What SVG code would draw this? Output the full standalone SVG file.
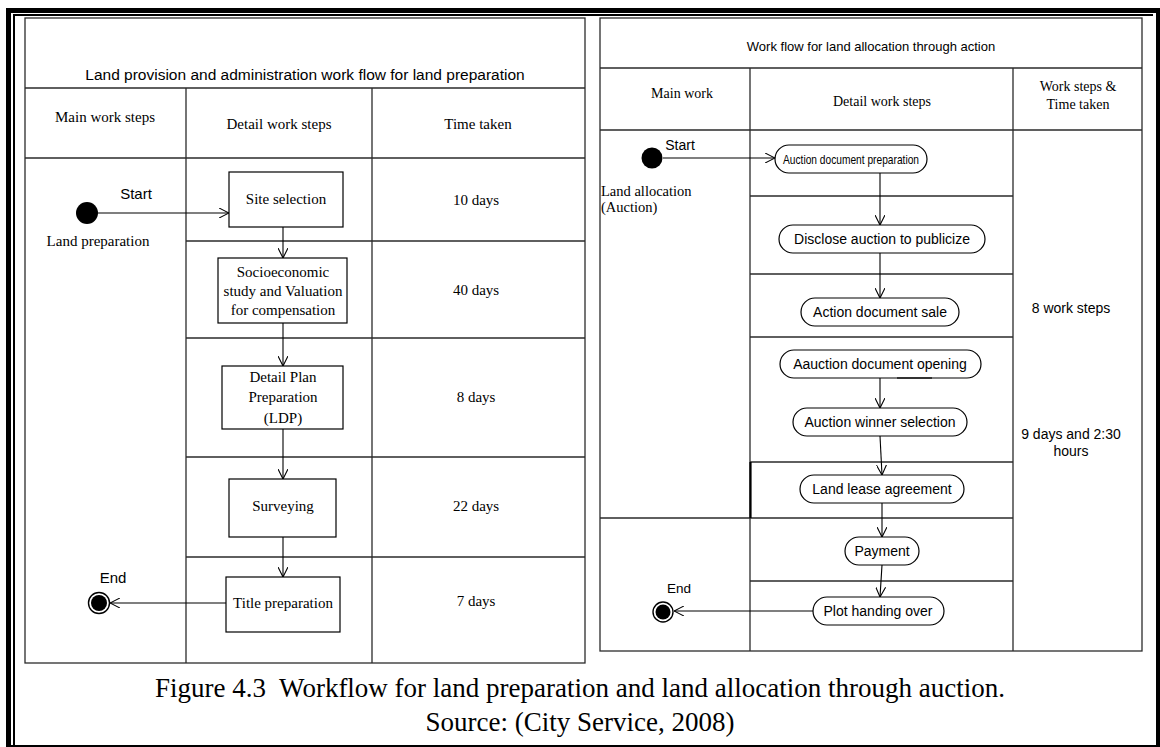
<svg xmlns="http://www.w3.org/2000/svg" width="1160" height="747" viewBox="0 0 1160 747">
  <defs>
    <marker id="open" viewBox="0 0 10 10" refX="10" refY="5" markerWidth="10" markerHeight="10" markerUnits="userSpaceOnUse" orient="auto">
      <path d="M0,0 L10,5 L0,10" fill="none" stroke="#000" stroke-width="1.1"/>
    </marker>
    <style>
      .grid { fill: none; stroke: #2b2b2b; stroke-width: 1.3; }
      .box { fill: #fff; stroke: #000; stroke-width: 1.2; }
      .pill { fill: #fff; stroke: #000; stroke-width: 1.2; }
      .conn { fill: none; stroke: #000; stroke-width: 1.1; marker-end: url(#open); }
      .serif { font-family: "Liberation Serif", "Times New Roman", serif; fill: #000; }
      .sans { font-family: "Liberation Sans", Arial, sans-serif; fill: #000; }
      .mid { text-anchor: middle; }
    </style>
  </defs>

  <rect width="1160" height="747" fill="#fff"/>

  <!-- page frame: thick outer band with thin inner rule -->
  <path d="M6,8 H1160 V747 H6 Z M11,13 V745 H1156 V13 Z" fill="#000" fill-rule="evenodd"/>
  <rect x="13" y="14" width="2" height="733" fill="#000"/>
  <rect x="13" y="14" width="1140" height="2" fill="#000"/>

  <!-- left swimlane table -->
  <g id="left-table">
    <rect class="grid" x="25" y="18" width="560" height="645"/>
    <path class="grid" d="M25,88 H585 M25,158 H585 M186,88 V663 M372,88 V663 M186,241 H585 M186,338 H585 M186,457 H585 M186,557 H585"/>
    <text class="sans mid" x="305" y="80" font-size="15.5">Land provision and administration work flow for land preparation</text>
    <text class="serif mid" x="105" y="122" font-size="15">Main work steps</text>
    <text class="serif mid" x="279" y="129" font-size="15">Detail work steps</text>
    <text class="serif mid" x="478" y="129" font-size="15">Time taken</text>
    <text class="serif mid" x="476" y="205" font-size="15">10 days</text>
    <text class="serif mid" x="476" y="295" font-size="15">40 days</text>
    <text class="serif mid" x="476" y="402" font-size="15">8 days</text>
    <text class="serif mid" x="476" y="511" font-size="15">22 days</text>
    <text class="serif mid" x="476" y="606" font-size="15">7 days</text>
  </g>

  <!-- right swimlane table -->
  <g id="right-table">
    <rect class="grid" x="600" y="18" width="542" height="633"/>
    <path class="grid" d="M600,68 H1142 M600,130 H1142 M750,68 V651 M1013,68 V651 M750,196 H1013 M750,274 H1013 M750,337 H1013 M750,462 H1013 M600,518 H1013 M750,581 H1013"/>
    <path d="M750.5,462 V518" stroke="#000" stroke-width="2.2"/>
    <text class="sans mid" x="871" y="51" font-size="13">Work flow for land allocation through action</text>
    <text class="serif mid" x="682" y="98" font-size="14">Main work</text>
    <text class="serif mid" x="882" y="106" font-size="14">Detail work steps</text>
    <text class="serif mid" x="1078" y="91" font-size="14">Work steps &amp;</text>
    <text class="serif mid" x="1078" y="109" font-size="14">Time taken</text>
    <text class="sans mid" x="1071" y="313" font-size="14">8 work steps</text>
    <text class="sans mid" x="1071" y="439" font-size="14">9 days and 2:30</text>
    <text class="sans mid" x="1071" y="456" font-size="14">hours</text>
  </g>

  <!-- land preparation flow -->
  <g id="lp-start">
    <circle cx="87" cy="213" r="11" fill="#000"/>
    <text class="sans mid" x="136" y="199" font-size="15">Start</text>
    <text class="serif mid" x="98" y="246" font-size="15">Land preparation</text>
  </g>
  <g id="lp-site">
    <rect class="box" x="229" y="172" width="114" height="55"/>
    <text class="serif mid" x="286" y="204" font-size="15">Site selection</text>
  </g>
  <g id="lp-socio">
    <rect class="box" x="218" y="258" width="129" height="65"/>
    <text class="serif mid" x="283" y="277" font-size="15">Socioeconomic</text>
    <text class="serif mid" x="283" y="296" font-size="15">study and Valuation</text>
    <text class="serif mid" x="283" y="315" font-size="15">for compensation</text>
  </g>
  <g id="lp-plan">
    <rect class="box" x="222" y="366" width="121" height="63"/>
    <text class="serif mid" x="283" y="382" font-size="15">Detail Plan</text>
    <text class="serif mid" x="283" y="402" font-size="15">Preparation</text>
    <text class="serif mid" x="283" y="423" font-size="15">(LDP)</text>
  </g>
  <g id="lp-survey">
    <rect class="box" x="229" y="479" width="107" height="58"/>
    <text class="serif mid" x="283" y="511" font-size="15">Surveying</text>
  </g>
  <g id="lp-title">
    <rect class="box" x="226" y="577" width="114" height="55"/>
    <text class="serif mid" x="283" y="608" font-size="15">Title preparation</text>
  </g>
  <g id="lp-end">
    <circle cx="99" cy="603" r="10.5" fill="#fff" stroke="#000" stroke-width="1.4"/>
    <circle cx="99" cy="603" r="8" fill="#000"/>
    <text class="sans mid" x="113" y="583" font-size="15">End</text>
  </g>

  <!-- land allocation flow -->
  <g id="la-start">
    <circle cx="652" cy="158" r="10.5" fill="#000"/>
    <text class="sans mid" x="680" y="150" font-size="14">Start</text>
    <text class="serif" x="601" y="196" font-size="14.5">Land allocation</text>
    <text class="serif" x="601" y="212" font-size="14.5">(Auction)</text>
  </g>
  <g id="la-prep">
    <rect class="pill" x="775" y="145" width="152" height="28" rx="14"/>
    <text class="sans mid" x="851" y="164" font-size="13.5" textLength="136" lengthAdjust="spacingAndGlyphs">Auction document preparation</text>
  </g>
  <g id="la-disclose">
    <rect class="pill" x="779" y="225" width="206" height="28" rx="14"/>
    <text class="sans mid" x="882" y="244" font-size="14">Disclose auction to publicize</text>
  </g>
  <g id="la-sale">
    <rect class="pill" x="801" y="298" width="158" height="28" rx="14"/>
    <text class="sans mid" x="880" y="317" font-size="14">Action document sale</text>
  </g>
  <g id="la-opening">
    <rect class="pill" x="780" y="350" width="201" height="28" rx="14"/>
    <text class="sans mid" x="880" y="369" font-size="14">Aauction document opening</text>
    <path d="M897,378 H932" stroke="#333" stroke-width="2"/>
  </g>
  <g id="la-winner">
    <rect class="pill" x="793" y="408" width="174" height="28" rx="14"/>
    <text class="sans mid" x="880" y="427" font-size="14">Auction winner selection</text>
  </g>
  <g id="la-lease">
    <rect class="pill" x="800" y="475" width="164" height="28" rx="14"/>
    <text class="sans mid" x="882" y="494" font-size="14">Land lease agreement</text>
  </g>
  <g id="la-payment">
    <rect class="pill" x="845" y="537" width="74" height="28" rx="14"/>
    <text class="sans mid" x="882" y="556" font-size="14">Payment</text>
  </g>
  <g id="la-handover">
    <rect class="pill" x="813" y="597" width="131" height="28" rx="14"/>
    <text class="sans mid" x="878" y="616" font-size="14">Plot handing over</text>
  </g>
  <g id="la-end">
    <circle cx="663" cy="612" r="10" fill="#fff" stroke="#000" stroke-width="1.4"/>
    <circle cx="663" cy="612" r="7.5" fill="#000"/>
    <text class="sans mid" x="679" y="593" font-size="13.5">End</text>
  </g>

  <!-- connectors -->
  <g id="connectors">
    <path class="conn" d="M98,213 H229"/>
    <path class="conn" d="M283,227 V258"/>
    <path class="conn" d="M283,323 V366"/>
    <path class="conn" d="M283,429 V479"/>
    <path class="conn" d="M283,537 V577"/>
    <path class="conn" d="M226,603 H110"/>
    <path class="conn" d="M663,158 H775"/>
    <path class="conn" d="M880,173 V225"/>
    <path class="conn" d="M880,253 V298"/>
    <path class="conn" d="M880,378 V408"/>
    <path class="conn" d="M880,436 L882,475"/>
    <path class="conn" d="M882,503 V537"/>
    <path class="conn" d="M882,565 L880,597"/>
    <path class="conn" d="M813,611 H674"/>
  </g>

  <!-- caption -->
  <g id="caption">
    <text class="serif mid" x="580" y="697" font-size="27" xml:space="preserve" style="white-space: pre">Figure 4.3  Workflow for land preparation and land allocation through auction.</text>
    <text class="serif mid" x="580" y="731" font-size="27">Source: (City Service, 2008)</text>
  </g>
</svg>
